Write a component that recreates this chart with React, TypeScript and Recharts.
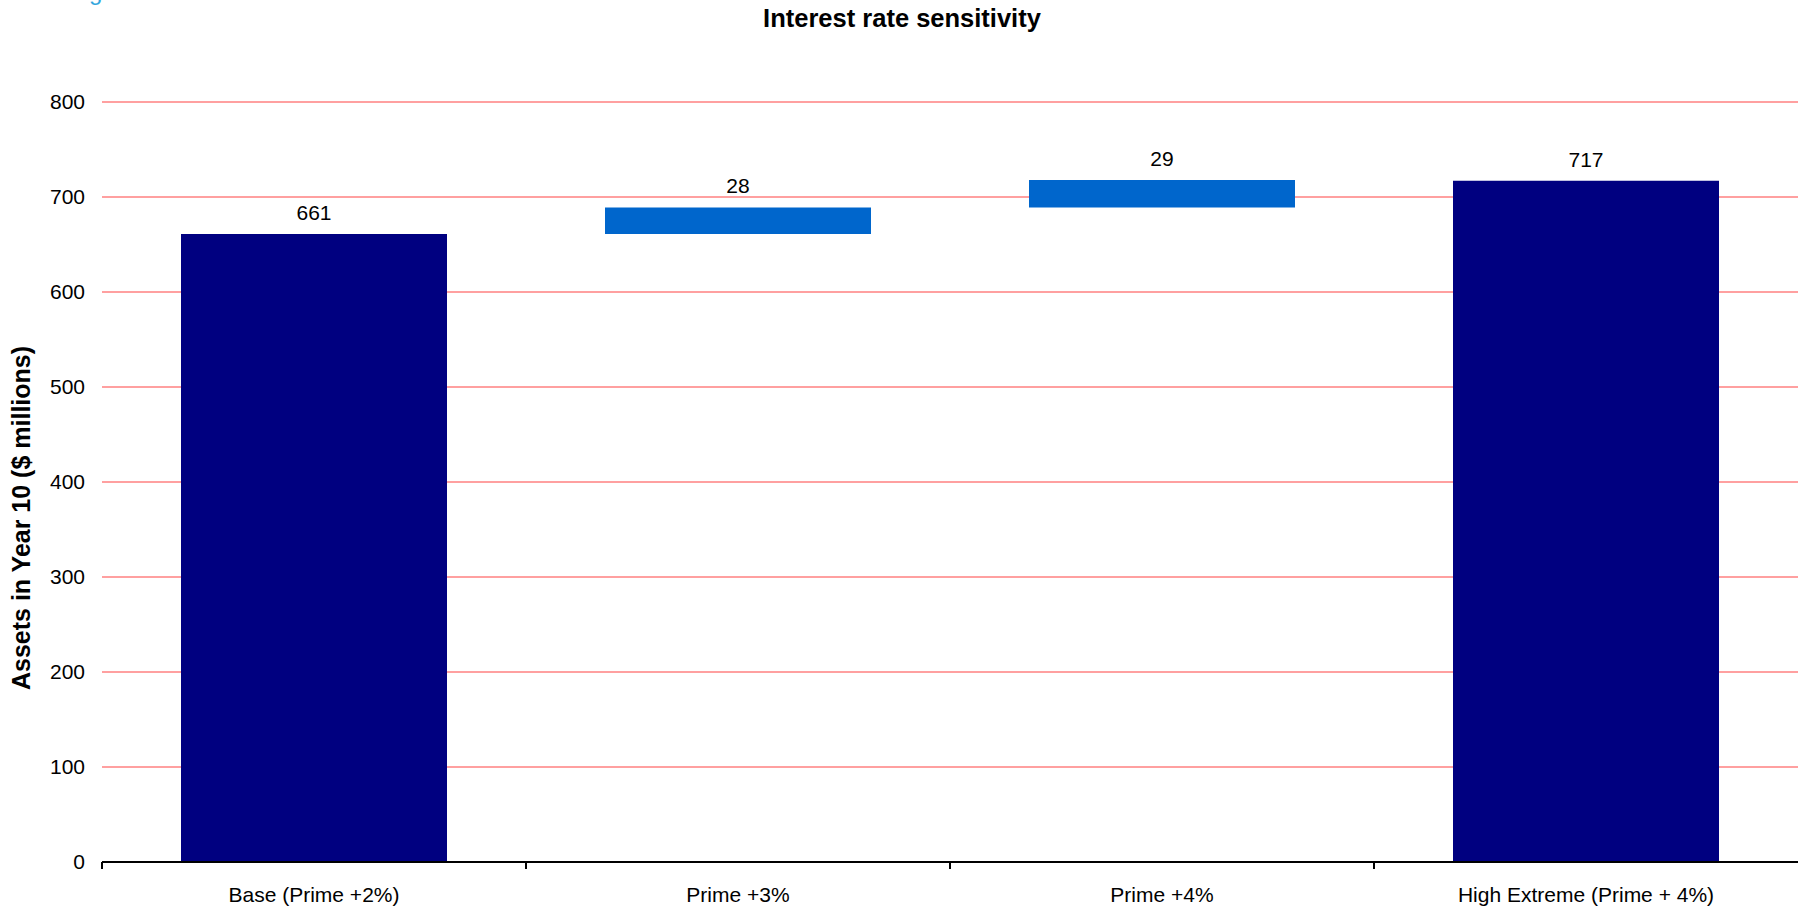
import { BarChart, Bar, XAxis, YAxis, CartesianGrid, Cell, LabelList } from 'recharts'

// waterfall steps: totals start from zero, changes float on the running sum
const categories = ['Base (Prime +2%)', 'Prime +3%', 'Prime +4%', 'High Extreme (Prime + 4%)']
const steps = [661, 28, 29, 717]
const isTotal = [true, false, false, true]
const yTicks = [0, 100, 200, 300, 400, 500, 600, 700, 800]

const W = 1798
const H = 908
const AXIS_W = 102
const BAND = (W - AXIS_W) / categories.length
const FONT = '"Liberation Sans", Arial, Helvetica, sans-serif'
const NAVY = '#000080'
const BLUE = '#0066CC'

let running = 0
const data = categories.map((name, i) => {
  const base = isTotal[i] ? 0 : running
  running = isTotal[i] ? steps[i] : running + steps[i]
  return { name, base, delta: steps[i], total: isTotal[i] }
})

function CategoryTick({ x, y, payload }: any) {
  // tick marks sit on the category boundaries, labels in the middle
  return (
    <g>
      <line x1={x - BAND / 2} x2={x - BAND / 2} y1={y} y2={y + 7} stroke="#000" strokeWidth={2} />
      <text x={x} y={y + 40} textAnchor="middle" fontSize={21} fill="#000" fontFamily={FONT}>
        {payload.value}
      </text>
    </g>
  )
}

export default function App() {
  return (
    <div style={{ position: 'fixed', top: 0, left: 0, width: W, height: H, background: '#fff', overflow: 'hidden', fontFamily: FONT }}>
      <div style={{ position: 'absolute', top: -20, left: 69, color: '#33A6DD', fontSize: 24, lineHeight: '24px' }}>
        Figure
      </div>
      <div style={{ position: 'absolute', top: 6, left: 0, width: 1804, textAlign: 'center', fontSize: 25.5, fontWeight: 'bold', lineHeight: '25.5px', color: '#000' }}>
        Interest rate sensitivity
      </div>
      <BarChart width={W} height={H} data={data} margin={{ top: 102, right: 0, bottom: 0, left: 0 }}>
        <CartesianGrid vertical={false} stroke="#FF8080" strokeWidth={1.6} />
        <XAxis
          dataKey="name"
          height={46}
          axisLine={{ stroke: '#000', strokeWidth: 2 }}
          tickLine={false}
          tickSize={0}
          tickMargin={0}
          tick={<CategoryTick />}
          interval={0}
        />
        <YAxis
          width={AXIS_W}
          domain={[0, 800]}
          ticks={yTicks}
          axisLine={false}
          tickLine={false}
          tickSize={0}
          tickMargin={17}
          tick={{ fontSize: 21, fill: '#000', fontFamily: FONT }}
          label={{
            content: () => (
              <text
                transform="translate(30, 518) rotate(-90)"
                textAnchor="middle"
                fontSize={25}
                fontWeight="bold"
                fill="#000"
                fontFamily={FONT}
              >
                Assets in Year 10 ($ millions)
              </text>
            ),
          }}
        />
        <Bar dataKey="base" stackId="w" fill="transparent" barSize={266} isAnimationActive={false} />
        <Bar dataKey="delta" stackId="w" barSize={266} isAnimationActive={false}>
          {data.map((d, i) => (
            <Cell key={i} fill={d.total ? NAVY : BLUE} />
          ))}
          <LabelList dataKey="delta" position="top" offset={14} fontSize={21} fill="#000" fontFamily={FONT} />
        </Bar>
      </BarChart>
    </div>
  )
}
